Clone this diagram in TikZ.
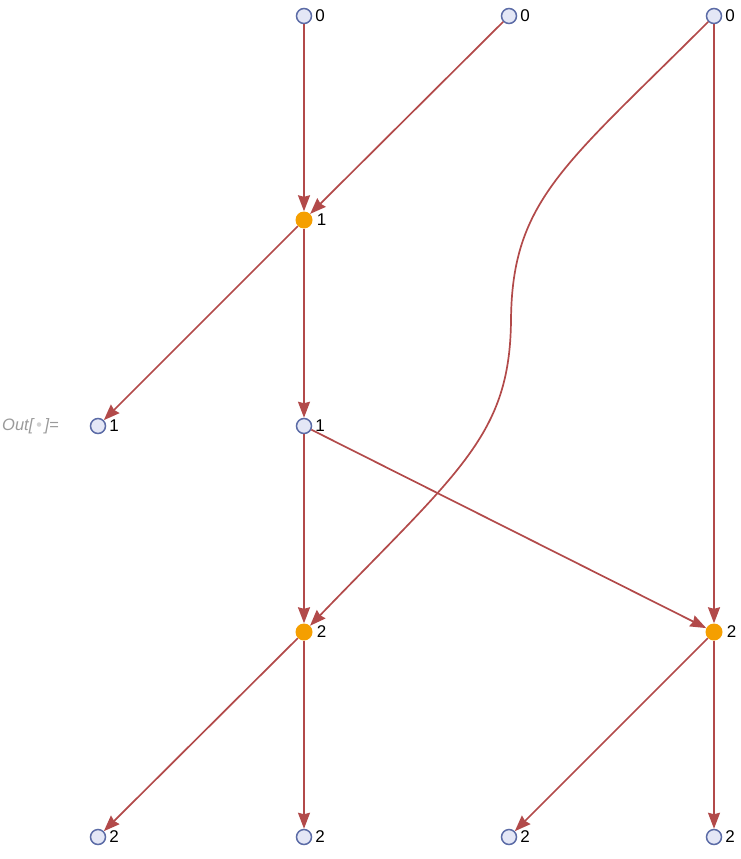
\documentclass[tikz,border=0pt]{standalone}
\usepackage{fontspec}
\setmainfont{Liberation Sans}
\usetikzlibrary{arrows.meta}
\definecolor{edgec}{HTML}{B24A4A}
\definecolor{vfill}{HTML}{E4E7F6}
\definecolor{vdraw}{HTML}{5B6BA6}
\definecolor{orng}{HTML}{F59F00}
\definecolor{outgray}{HTML}{9A9A9A}
\tikzset{
  vtx/.style={circle,inner sep=0pt,minimum size=15pt,draw=vdraw,fill=vfill,line width=1.5pt,
    label={[anchor=west,inner sep=0pt,label distance=3pt,font=\fontsize{17}{17}\selectfont]east:#1}},
  evt/.style={circle,inner sep=0pt,minimum size=17pt,fill=orng,
    label={[anchor=west,inner sep=0pt,label distance=4pt,font=\fontsize{17}{17}\selectfont]east:#1}},
  edge/.style={draw=edgec,line width=1.7pt,-{Stealth[length=16pt,width=12pt,inset=1.5pt]}},
}
\begin{document}
\begin{tikzpicture}[x=1pt,y=-1pt]
\useasboundingbox (0,0) rectangle (741,859);
% nodes
\node[vtx=0] (t1) at (304,16) {};
\node[vtx=0] (t2) at (509,16) {};
\node[vtx=0] (t3) at (714,16) {};
\node[evt=1] (e1) at (304,220) {};
\node[vtx=1] (a1) at (98,426) {};
\node[vtx=1] (a2) at (304,426) {};
\node[evt=2] (e2) at (304,632) {};
\node[evt=2] (e3) at (714,632) {};
\node[vtx=2] (b1) at (98,837) {};
\node[vtx=2] (b2) at (304,837) {};
\node[vtx=2] (b3) at (509,837) {};
\node[vtx=2] (b4) at (714,837) {};
\node[anchor=west,inner sep=0pt,text=outgray,font=\fontsize{16.5}{16.5}\itshape] (out) at (2,426)
  {Out[\,\textcolor{outgray!45}{\textbullet}\,]=};
% edges
\draw[edge] (t1) -- (e1);
\draw[edge] (t2) -- (e1);
\draw[edge] (t3) -- (e3);
\draw[edge] (t3) .. controls (565,165) and (512,200) .. (511,320)
  .. controls (510,435) and (460,470) .. (e2);
\draw[edge] (e1) -- (a1);
\draw[edge] (e1) -- (a2);
\draw[edge] (a2) -- (e2);
\draw[edge] (a2) -- (e3);
\draw[edge] (e2) -- (b1);
\draw[edge] (e2) -- (b2);
\draw[edge] (e3) -- (b3);
\draw[edge] (e3) -- (b4);
\end{tikzpicture}
\end{document}
